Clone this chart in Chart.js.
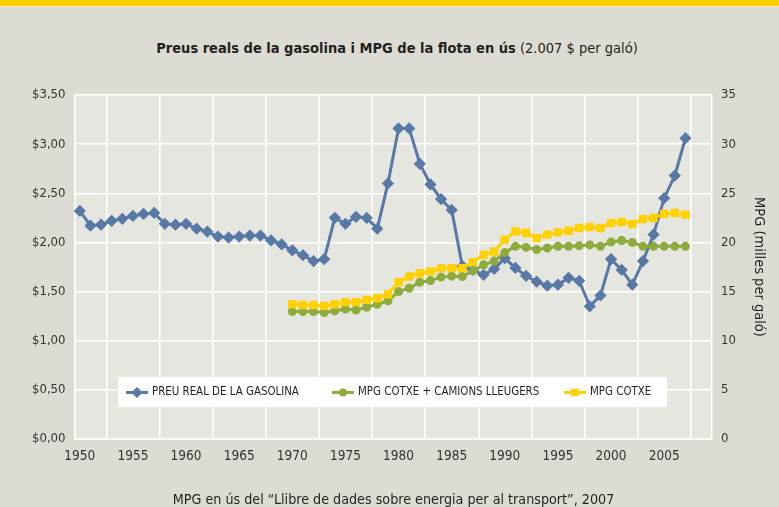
<!DOCTYPE html>
<html>
<head>
<meta charset="utf-8">
<script src="https://cdn.jsdelivr.net/npm/chart.js@4"></script>
<style>
  html, body { margin: 0; padding: 0; }
  body { width: 779px; height: 507px; background: #dddcd4; position: relative; overflow: hidden;
         font-family: 'Liberation Sans Narrow', 'DejaVu Sans Condensed', sans-serif; color: #231f20; }
  #topbar { position: absolute; left: 0; top: 0; width: 779px; height: 6px; background: #ffd100; border-bottom: 1px solid #f3eccb; }
  #title { position: absolute; left: 0; top: 40px; width: 794px; text-align: center; font-size: 14.5px; white-space: nowrap; }
  #title b { font-weight: bold; }
  #note { position: absolute; left: 0; top: 491px; width: 787px; text-align: center; font-size: 14.2px; white-space: nowrap; }
  #wrap { position: absolute; left: 0; top: 0; width: 779px; height: 507px; }
</style>
</head>
<body>
<div id="topbar"></div>
<div id="title"><b>Preus reals de la gasolina i MPG de la flota en ús</b> (2.007 $ per galó)</div>
<div id="wrap"><canvas id="chart" width="779" height="507"></canvas></div>
<div id="note">MPG en ús del “Llibre de dades sobre energia per al transport”, 2007</div>
<script>
const FONT = "'Liberation Sans Narrow', 'DejaVu Sans Condensed', sans-serif";

// categories (one per year, the axis runs to 2009)
const years = ["1950","1951","1952","1953","1954","1955","1956","1957","1958","1959",
               "1960","1961","1962","1963","1964","1965","1966","1967","1968","1969",
               "1970","1971","1972","1973","1974","1975","1976","1977","1978","1979",
               "1980","1981","1982","1983","1984","1985","1986","1987","1988","1989",
               "1990","1991","1992","1993","1994","1995","1996","1997","1998","1999",
               "2000","2001","2002","2003","2004","2005","2006","2007","2008","2009"];

// real gasoline price, $ per gallon (1950-2007)
const gasPrice = [2.32, 2.17, 2.18, 2.22, 2.24, 2.27, 2.29, 2.30, 2.19, 2.18,
                  2.19, 2.14, 2.11, 2.06, 2.05, 2.06, 2.07, 2.07, 2.02, 1.98,
                  1.92, 1.87, 1.81, 1.83, 2.25, 2.19, 2.26, 2.25, 2.14, 2.60,
                  3.16, 3.16, 2.80, 2.59, 2.44, 2.33, 1.76, 1.72, 1.67, 1.73,
                  1.84, 1.74, 1.66, 1.60, 1.56, 1.57, 1.64, 1.61, 1.35, 1.46,
                  1.83, 1.72, 1.57, 1.81, 2.08, 2.45, 2.68, 3.06];

// MPG series start in 1970
const mpgYears = years.slice(20, 58);
const mpgCarsTrucks = [12.96, 12.96, 12.96, 12.86, 13.03, 13.23, 13.13, 13.40, 13.71, 14.05,
                       15.00, 15.34, 15.95, 16.12, 16.47, 16.57, 16.53, 17.11, 17.72, 18.10,
                       18.98, 19.60, 19.50, 19.27, 19.43, 19.60, 19.60, 19.65, 19.75, 19.60,
                       20.04, 20.20, 20.00, 19.60, 19.60, 19.60, 19.60, 19.60];
const mpgCars = [13.71, 13.64, 13.64, 13.54, 13.71, 13.92, 13.92, 14.15, 14.32, 14.73,
                 15.96, 16.53, 16.87, 17.04, 17.38, 17.38, 17.38, 17.99, 18.74, 19.08,
                 20.28, 21.13, 20.96, 20.45, 20.79, 21.02, 21.19, 21.47, 21.57, 21.47,
                 21.98, 22.08, 21.88, 22.39, 22.49, 22.90, 23.00, 22.83];

const priceTicks = [0, 0.5, 1, 1.5, 2, 2.5, 3, 3.5];
const mpgTicks = [0, 5, 10, 15, 20, 25, 30, 35];

const seriesNames = ["PREU REAL DE LA GASOLINA", "MPG COTXE + CAMIONS LLEUGERS", "MPG COTXE"];
const seriesColors = ["#5878a6", "#8eab3d", "#ffd100"];

function toPoints(labels, values) {
    return values.map((v, i) => ({ x: labels[i], y: v }));
}

// grey plot background
const plotBg = {
    id: "plotBg",
    beforeDraw(chart) {
        const a = chart.chartArea;
        const ctx = chart.ctx;
        ctx.save();
        ctx.fillStyle = "#e6e6e1";
        ctx.fillRect(a.left, a.top, a.right - a.left, a.bottom - a.top);
        ctx.restore();
    }
};

// white legend box inside the plot
const insideLegend = {
    id: "insideLegend",
    afterDatasetsDraw(chart) {
        const ctx = chart.ctx;
        const box = { x: 118, y: 377, w: 549, h: 30 };
        const starts = [126, 332, 564];
        ctx.save();
        ctx.fillStyle = "#ffffff";
        ctx.fillRect(box.x, box.y, box.w, box.h);
        ctx.font = "11.4px " + FONT;
        ctx.textBaseline = "middle";
        const cy = box.y + box.h / 2 + 0.5;
        chart.data.datasets.forEach((ds, i) => {
            const x0 = starts[i];
            ctx.strokeStyle = ds.borderColor;
            ctx.lineWidth = 3;
            ctx.beginPath();
            ctx.moveTo(x0, cy);
            ctx.lineTo(x0 + 22, cy);
            ctx.stroke();
            ctx.fillStyle = ds.borderColor;
            Chart.helpers.drawPoint(ctx, {
                pointStyle: ds.pointStyle,
                radius: ds.pointRadius - 0.5,
                borderWidth: 1
            }, x0 + 11, cy);
            ctx.fillStyle = "#231f20";
            ctx.fillText(ds.label, x0 + 26, cy);
        });
        ctx.restore();
    }
};

const ctx = document.getElementById("chart").getContext("2d");

new Chart(ctx, {
    type: "line",
    data: {
        labels: years,
        datasets: [
            {
                label: seriesNames[0],
                data: gasPrice,
                yAxisID: "y",
                borderColor: seriesColors[0],
                backgroundColor: seriesColors[0],
                borderWidth: 3,
                pointStyle: "rectRot",
                pointRadius: 4,
                order: 3
            },
            {
                label: seriesNames[1],
                data: toPoints(mpgYears, mpgCarsTrucks),
                yAxisID: "y2",
                borderColor: seriesColors[1],
                backgroundColor: seriesColors[1],
                borderWidth: 3,
                pointStyle: "circle",
                pointRadius: 3,
                order: 2
            },
            {
                label: seriesNames[2],
                data: toPoints(mpgYears, mpgCars),
                yAxisID: "y2",
                borderColor: seriesColors[2],
                backgroundColor: seriesColors[2],
                borderWidth: 3,
                pointStyle: "rect",
                pointRadius: 3.8,
                order: 1
            }
        ]
    },
    options: {
        responsive: false,
        animation: false,
        events: [],
        layout: { padding: { top: 95, left: 0, right: 0, bottom: 0 } },
        plugins: {
            legend: { display: false },
            tooltip: { enabled: false }
        },
        scales: {
            x: {
                type: "category",
                offset: true,
                grid: {
                    offset: true,
                    color: "#ffffff",
                    lineWidth: 1.5,
                    drawTicks: false
                },
                border: { color: "#ffffff", width: 1.5 },
                ticks: {
                    autoSkip: false,
                    maxRotation: 0,
                    padding: 9,
                    color: "#333333",
                    font: { family: FONT, size: 13.5 },
                    callback: function (value, index) {
                        const y = Number(this.getLabelForValue(value));
                        return y % 5 === 0 ? String(y) : null;
                    }
                },
                afterFit(scale) { scale.height = 68; }
            },
            y: {
                position: "left",
                min: 0,
                max: 3.5,
                grid: { color: "#ffffff", lineWidth: 1.5, drawTicks: false },
                border: { color: "#ffffff", width: 1.5 },
                afterBuildTicks(scale) { scale.ticks = priceTicks.map(v => ({ value: v })); },
                ticks: {
                    padding: 9,
                    color: "#333333",
                    font: { family: FONT, size: 13 },
                    callback: v => "$" + v.toFixed(2).replace(".", ",")
                },
                afterFit(scale) { scale.width = 74.5; }
            },
            y2: {
                position: "right",
                min: 0,
                max: 35,
                grid: { drawOnChartArea: false, drawTicks: false },
                border: { color: "#ffffff", width: 1.5 },
                afterBuildTicks(scale) { scale.ticks = mpgTicks.map(v => ({ value: v })); },
                ticks: {
                    padding: 9,
                    color: "#333333",
                    font: { family: FONT, size: 13 }
                },
                title: {
                    display: true,
                    text: "MPG (milles per galó)",
                    color: "#231f20",
                    font: { family: FONT, size: 14.5 },
                    padding: { top: 12, bottom: 0 }
                },
                afterFit(scale) { scale.width = 67; }
            }
        }
    },
    plugins: [plotBg, insideLegend]
});
</script>
</body>
</html>
